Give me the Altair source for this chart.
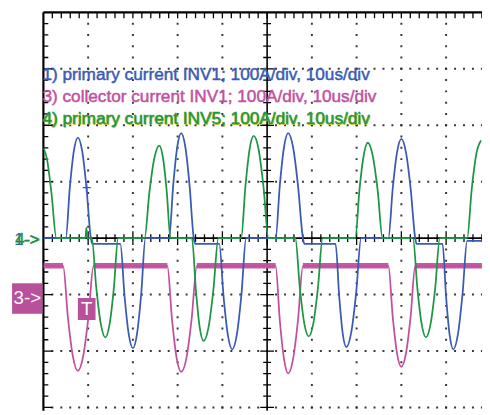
import altair as alt
import pandas as pd
import numpy as np

# ---------------- data (time in us, current in A) ----------------
# channel 1: primary current INV1 (blue)
ch1_time = [0, 5.0, 5.9, 6.8, 7.7, 8.67, 9.63, 10.6, 10.9,
            17.2, 18.13, 19.07, 20.0, 20.93, 21.87, 22.8,
            28.1, 29.0, 29.9, 30.8, 31.73, 32.67, 33.6, 33.9,
            39.3, 40.27, 41.23, 42.2, 43.23, 44.27, 45.3,
            51.9, 52.83, 53.77, 54.7, 55.8, 56.9, 58.0, 58.3,
            65.3, 66.1, 66.9, 67.7, 68.8, 69.9, 71.0,
            77.1, 78.07, 79.03, 80.0, 81.03, 82.07, 83.1, 83.4,
            89.2, 90.0, 90.8, 91.6, 92.63, 93.67, 94.7, 98.0]
ch1_current = [0, 0, 89, 154, 178, 154, 89, 0, -10,
               -10, -102, -170, -195, -169, -98, 0,
               0, 93, 161, 186, 161, 93, 0, -10,
               -10, -104, -172, -197, -171, -99, 0,
               0, 93, 161, 186, 161, 93, 0, -10,
               -10, -102, -169, -193, -167, -97, 0,
               0, 88, 152, 176, 152, 88, 0, -10,
               -10, -104, -172, -197, -171, -99, -5, -5]

# channel 4: primary current INV5 (green)
ch4_time = [0, 0.8, 1.8, 2.9, 9.4, 9.6, 9.8,
            10.8, 11.82, 12.83, 13.85, 14.8, 15.75, 16.7,
            22.6, 23.7, 24.8, 25.9, 26.73, 27.57, 28.4,
            33.2, 34.07, 34.93, 35.8, 36.9, 38.0, 39.1,
            44.2, 45.13, 46.07, 47.0, 48.1, 49.2, 50.3,
            56.3, 57.3, 58.3, 59.3, 60.33, 61.37, 62.4,
            69.7, 70.63, 71.57, 72.5, 73.6, 74.7, 75.8,
            82.6, 83.57, 84.53, 85.5, 86.53, 87.57, 88.6,
            94.7, 95.73, 96.77, 97.8]
ch4_current = [160, 140, 80, 0, 0, 18, 0,
               0, -88, -152, -176, -152, -88, 0,
               0, 82, 142, 164, 142, 82, 0,
               0, -91, -158, -182, -158, -91, 0,
               0, 90, 157, 181, 157, 90, 0,
               0, -87, -151, -174, -151, -87, 0,
               0, 85, 146, 169, 146, 85, 0,
               0, -88, -152, -176, -152, -88, 0,
               0, 87, 150, 173]

# channel 3: collector current INV1 (magenta), displayed with its channel offset
ch3_time = [0, 4.4, 5.5, 6.6, 7.7, 8.87, 10.03, 11.2,
            27.7, 28.73, 29.77, 30.8, 31.97, 33.13, 34.3,
            51.9, 52.83, 53.77, 54.7, 55.8, 56.9, 58.0,
            77.1, 78.07, 79.03, 80.0, 81.03, 82.07, 83.1, 98.0]
ch3_current = [-49, -49, -142, -210, -235, -210, -142, -49,
               -49, -143, -212, -237, -212, -143, -49,
               -49, -145, -214, -240, -214, -145, -49,
               -49, -139, -204, -228, -204, -139, -49, -49]
ch3_level = -49

legend_texts = ["1) primary current INV1; 100A/div, 10us/div",
                "3) collector current INV1; 100A/div, 10us/div",
                "4) primary current INV5; 100A/div, 10us/div"]

# ---------------- layout / style ----------------
BLUE = "#3a5bb5"
MAGENTA = "#c2509f"
GREEN = "#1f9646"
W, H = 446, 405
PX_US = 4.55          # pixels per microsecond (45.5 px per 10 us division)
PX_A = 0.574          # pixels per ampere (57.4 px per 100 A division)
X_MAX = W / PX_US
Y_TOP = 400.0
Y_BOT = Y_TOP - H / PX_A

xs = alt.Scale(domain=[0, X_MAX], nice=False, zero=False)
ys = alt.Scale(domain=[Y_BOT, Y_TOP], nice=False, zero=False)


def X(f):
    return alt.X(f, type="quantitative", scale=xs, axis=None)


def Y(f):
    return alt.Y(f, type="quantitative", scale=ys, axis=None)


# dotted graticule
dots = []
for xv in [10, 20, 30, 40, 60, 70, 80, 90]:
    for yv in np.arange(-300, 400, 20):
        dots.append((xv, yv))
for yv in [-300, -200, -100, 100, 200, 300]:
    for xv in np.arange(2, X_MAX, 2):
        dots.append((xv, yv))
dots_df = pd.DataFrame(dots, columns=["t", "i"])
dots_layer = alt.Chart(dots_df).mark_square(size=4, color="#222222", opacity=0.9, clip=True).encode(
    x=X("t"), y=Y("i"))

# ticks along frame and centre cross
tk = []
for xv in np.arange(2, X_MAX, 2):
    tk.append((xv, xv, Y_TOP, Y_TOP - 6 / PX_A))                 # top edge
    big = abs(xv / 10 - round(xv / 10)) < 1e-6
    h = (7 if big else 4) / PX_A
    tk.append((xv, xv, -h, h))                                   # centre horizontal
for yv in np.arange(-300, 400, 20):
    big = yv % 100 == 0
    tk.append((0, (9 if big else 5) / PX_US, yv, yv))            # left edge
    w = (7 if big else 4) / PX_US
    tk.append((50 - w, 50 + w, yv, yv))                          # centre vertical
ticks_df = pd.DataFrame(tk, columns=["t", "t2", "i", "i2"])
ticks_layer = alt.Chart(ticks_df).mark_rule(color="black", strokeWidth=1.3, clip=True).encode(
    x=X("t"), x2=alt.X2("t2"), y=Y("i"), y2=alt.Y2("i2"))

frame_df = pd.DataFrame([
    (0, X_MAX, Y_TOP, Y_TOP, 2.2),
    (0, 0, Y_BOT, Y_TOP, 2.2),
    (50, 50, Y_BOT, Y_TOP, 1.6),
    (0, X_MAX, 0, 0, 1.6),
], columns=["t", "t2", "i", "i2", "w"])
frame_layer = alt.Chart(frame_df).mark_rule(color="black").encode(
    x=X("t"), x2=alt.X2("t2"), y=Y("i"), y2=alt.Y2("i2"),
    strokeWidth=alt.StrokeWidth("w:Q", scale=None))

# traces
ch1_df = pd.DataFrame({"t": ch1_time, "i": ch1_current})
ch3_df = pd.DataFrame({"t": ch3_time, "i": ch3_current})
ch4_df = pd.DataFrame({"t": ch4_time, "i": ch4_current})


def trace(df, color, w=1.8):
    return alt.Chart(df).mark_line(interpolate="monotone", strokeWidth=w, color=color, clip=True,
                                   strokeJoin="round").encode(x=X("t"), y=Y("i"))


# noisy flat band of channel 3
flats = []
for k in range(len(ch3_time) - 1):
    if ch3_current[k] == ch3_level and ch3_current[k + 1] == ch3_level:
        flats.append((ch3_time[k], ch3_time[k + 1]))
flat_df = pd.DataFrame(flats, columns=["t", "t2"])
flat_df["i"] = ch3_level + 5
flat_df["i2"] = ch3_level - 5
flat_layer = alt.Chart(flat_df).mark_rect(color=MAGENTA, opacity=0.95, clip=True).encode(
    x=X("t"), x2=alt.X2("t2"), y=Y("i"), y2=alt.Y2("i2"))

# header texts
txt_df = pd.DataFrame({"label": legend_texts, "t": [-0.22] * 3, "i": [281, 242, 203]})
txt_colors = [BLUE, MAGENTA, GREEN]
shadow_layer = alt.Chart(txt_df.iloc[[2]]).mark_text(
    align="left", baseline="alphabetic", font="Liberation Sans", fontSize=17.5, color="#d6cf2c", dx=1, dy=1
).encode(x=X("t"), y=Y("i"), text="label:N")
txt_layer = alt.Chart(txt_df).mark_text(
    align="left", baseline="alphabetic", font="Liberation Sans", fontSize=17.5, strokeWidth=0.5
).encode(x=X("t"), y=Y("i"), text="label:N",
         color=alt.Color("label:N", scale=alt.Scale(domain=legend_texts, range=txt_colors), legend=None),
         stroke=alt.Stroke("label:N", scale=alt.Scale(domain=legend_texts, range=txt_colors), legend=None))

# channel markers on the left, trigger marker
m1 = alt.Chart(pd.DataFrame({"t": [-6.5], "i": [-3], "s": ["1->"]})).mark_text(
    align="left", baseline="middle", font="Liberation Sans", fontSize=17, color=BLUE
).encode(x=X("t"), y=Y("i"), text="s:N")
m4 = alt.Chart(pd.DataFrame({"t": [-6.3], "i": [-3], "s": ["4->"]})).mark_text(
    align="left", baseline="middle", font="Liberation Sans", fontSize=17, color=GREEN,
    stroke=GREEN, strokeWidth=0.5
).encode(x=X("t"), y=Y("i"), text="s:N")

box_df = pd.DataFrame({"t": [-7.0, 7.7], "t2": [-0.2, 11.65], "i": [-80, -106], "i2": [-134, -145]})
box_layer = alt.Chart(box_df).mark_rect(color="#b9509c").encode(
    x=X("t"), x2=alt.X2("t2"), y=Y("i"), y2=alt.Y2("i2"))
box_txt = alt.Chart(pd.DataFrame({"t": [-3.6, 9.67], "i": [-107, -126], "s": ["3->", "T"]})).mark_text(
    align="center", baseline="middle", font="Liberation Sans", fontSize=19, color="white"
).encode(x=X("t"), y=Y("i"), text="s:N")

cursor = alt.Chart(pd.DataFrame({"t": [9.67], "i": [88], "s": ["+"]})).mark_text(
    align="center", baseline="middle", font="Liberation Sans", fontSize=17, color=BLUE
).encode(x=X("t"), y=Y("i"), text="s:N")

chart = alt.layer(
    dots_layer, ticks_layer, frame_layer,
    flat_layer, trace(ch3_df, MAGENTA), trace(ch1_df, BLUE), trace(ch4_df, GREEN),
    shadow_layer, txt_layer, m1, m4, box_layer, box_txt, cursor
).properties(
    width=W, height=H,
    padding={"left": 36, "top": 1, "right": 0, "bottom": 0},
    autosize=alt.AutoSizeParams(type="none"),
).configure_view(stroke=None)

chart.save("out.html", embed_options={"renderer": "svg", "actions": False})
